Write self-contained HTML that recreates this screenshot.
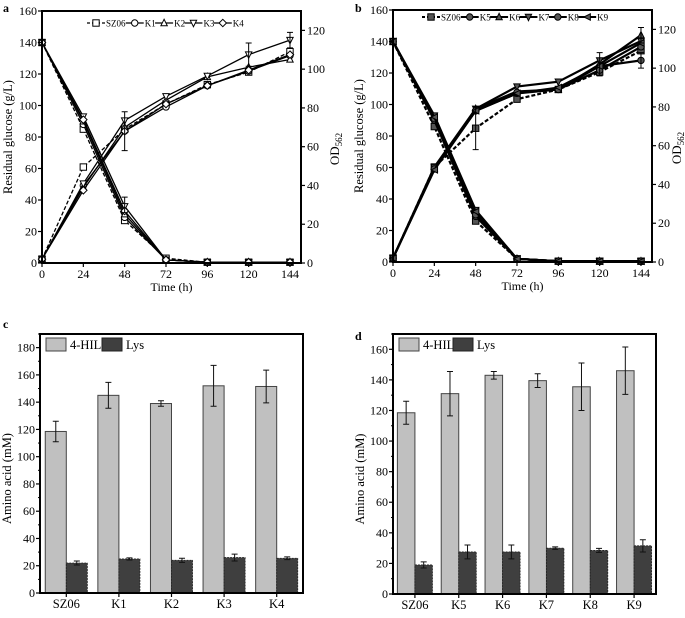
<!DOCTYPE html>
<html><head><meta charset="utf-8">
<style>
html,body{margin:0;padding:0;background:#fff;}
svg, svg text{font-family:"Liberation Serif","Times New Roman",Times,serif;}
</style></head>
<body>
<svg id="fig" width="685" height="613" viewBox="0 0 685 613" font-family="Liberation Serif, serif" xmlns="http://www.w3.org/2000/svg"></svg>
<script>
// ---- data: panel a ----
const timesA = [0,24,48,72,96,120,144];
const namesA = ["SZ06","K1","K2","K3","K4"];
const glucA_SZ06 = [140,85,27,3,0.5,0.5,0.5];
const glucA_K1 = [140,88,29,2,0.5,0.5,0.5];
const glucA_K2 = [140,90,31,2,0.5,0.5,0.5];
const glucA_K3 = [140,93,36,2,0.5,0.5,0.5];
const glucA_K4 = [140,91,33,2,0.5,0.5,0.5];
const odA_SZ06 = [2,49.5,69,82,92,98.5,109];
const odA_K1 = [2,40,68,80.5,91.5,99,107];
const odA_K2 = [2,39,70,84,96,101,105];
const odA_K3 = [2,41,73.5,86,96.5,107.5,115];
const odA_K4 = [2,37.5,68,82,91.5,99.5,107.5];
// ---- data: panel b ----
const namesB = ["SZ06","K5","K6","K7","K8","K9"];
const glucB_SZ06 = [140,86,26,2,0.5,0.5,0.5];
const glucB_K5 = [140,90,29,2,0.5,0.5,0.5];
const glucB_K6 = [140,92,31,2,0.5,0.5,0.5];
const glucB_K7 = [140,93,33,2,0.5,0.5,0.5];
const glucB_K8 = [140,91,30,2,0.5,0.5,0.5];
const glucB_K9 = [140,92,32,2,0.5,0.5,0.5];
const odB_SZ06 = [2,49,69,84,89,98,109];
const odB_K5 = [2,48,78,87,89,101,104];
const odB_K6 = [2,48,79,88,89,102,117];
const odB_K7 = [2,49,79,90.5,93,104,114];
const odB_K8 = [2,48,78,87.5,89,99,111];
const odB_K9 = [2,47.5,78,87,90,101,113];
const leftTicks = [0,20,40,60,80,100,120,140,160];
const rightTicks = [0,20,40,60,80,100,120];
// ---- data: panel c ----
const catsC = ["SZ06","K1","K2","K3","K4"];
const hilC = [118.5,145,139,152,151.5];
const hilErrC = [7.5,9.5,2,15,12];
const lysC = [22,25,24,26,25.5];
const lysErrC = [1.5,0.8,1.5,2.5,1];
const ticksC = [0,20,40,60,80,100,120,140,160,180];
// ---- data: panel d ----
const catsD = ["SZ06","K5","K6","K7","K8","K9"];
const hilD = [118.5,131,143,139.5,135.5,146];
const hilErrD = [7.5,14.5,2.5,4.5,15.5,15.5];
const lysD = [19,27.5,27.5,30,28.5,31.5];
const lysErrD = [2,4.5,4.5,0.8,1.3,4];
const ticksD = [0,20,40,60,80,100,120,140,160];

const NS="http://www.w3.org/2000/svg";
const svg=document.getElementById('fig');
const FF='"Liberation Serif", "Times New Roman", serif';
function mk(tag,attrs,parent,text){const e=document.createElementNS(NS,tag);for(const k in attrs)e.setAttribute(k,attrs[k]);if(tag==='text')e.style.fontFamily=FF;if(text!==undefined)e.textContent=text;(parent||svg).appendChild(e);return e;}

function marker(g,shape,x,y,filled){
  const f=filled?'#555':'#fff';const s=3.2;let m;
  if(shape==='square')m=mk('rect',{x:x-s,y:y-s,width:2*s,height:2*s,fill:f,stroke:'#000','stroke-width':1},g);
  else if(shape==='circle')m=mk('circle',{cx:x,cy:y,r:s,fill:f,stroke:'#000','stroke-width':1},g);
  else if(shape==='up')m=mk('polygon',{points:`${x},${y-s-0.5} ${x-s},${y+s-0.5} ${x+s},${y+s-0.5}`,fill:f,stroke:'#000','stroke-width':1},g);
  else if(shape==='down')m=mk('polygon',{points:`${x},${y+s+0.5} ${x-s},${y-s+0.5} ${x+s},${y-s+0.5}`,fill:f,stroke:'#000','stroke-width':1},g);
  else if(shape==='diamond')m=mk('polygon',{points:`${x},${y-s-0.5} ${x+s+0.5},${y} ${x},${y+s+0.5} ${x-s-0.5},${y}`,fill:f,stroke:'#000','stroke-width':1},g);
  else m=mk('polygon',{points:`${x-s},${y} ${x+s},${y-s} ${x+s},${y+s}`,fill:f,stroke:'#000','stroke-width':1},g);
  
  
}

function linePanel(o){
  const g=mk('g',{},svg);
  const X=t=>o.l+(t/o.xmax)*(o.r-o.l);
  const YL=v=>o.b-(v/160)*(o.b-o.t);
  const YR=v=>o.b-(v/130)*(o.b-o.t);
  o.series.forEach((s,i)=>{
    const sg=mk('g',{},g);
    const dash=i===0?'4,2':'none';const w=o.bold?2.2:1.3;
    const pg=timesA.map((t,j)=>X(t)+','+YL(s.gluc[j])).join(' ');
    const pl=mk('polyline',{points:pg,fill:'none',stroke:'#000','stroke-width':w,'stroke-dasharray':dash},sg);
    
    const po=timesA.map((t,j)=>X(t)+','+YR(s.od[j])).join(' ');
    const pl2=mk('polyline',{points:po,fill:'none',stroke:'#000','stroke-width':w,'stroke-dasharray':dash},sg);
    
    timesA.forEach((t,j)=>{marker(sg,s.shape,X(t),YL(s.gluc[j]),o.bold);marker(sg,s.shape,X(t),YR(s.od[j]),o.bold);});
  });
  o.errs.forEach(e=>{const x=X(e[0]),y1=YR(e[1]-e[2]),y2=YR(e[1]+e[2]);
    const eb=mk('path',{d:`M${x},${y1}V${y2}M${x-3},${y1}H${x+3}M${x-3},${y2}H${x+3}`,stroke:'#000','stroke-width':1,fill:'none'},g);
    });
  const fr=mk('rect',{x:o.l,y:o.t,width:o.r-o.l,height:o.b-o.t,fill:'none',stroke:'#000','stroke-width':2},g);
  
  leftTicks.forEach(v=>{const y=YL(v);mk('line',{x1:o.l-4,x2:o.l,y1:y,y2:y,stroke:'#000','stroke-width':1.2},g);
    const t=mk('text',{x:o.l-5,y:y+4,'text-anchor':'end','font-size':12},g,v);});
  rightTicks.forEach(v=>{const y=YR(v);mk('line',{x1:o.r,x2:o.r+4,y1:y,y2:y,stroke:'#000','stroke-width':1.2},g);
    const t=mk('text',{x:o.r+6,y:y+4,'font-size':12},g,v);});
  timesA.forEach(v=>{const x=X(v);mk('line',{x1:x,x2:x,y1:o.b,y2:o.b+4,stroke:'#000','stroke-width':1.2},g);
    const t=mk('text',{x:x,y:o.b+15,'text-anchor':'middle','font-size':12},g,v);});
  const xt=mk('text',{x:(o.l+o.r)/2,y:o.b+28,'text-anchor':'middle','font-size':12},g,'Time (h)');
  const yt=mk('text',{transform:`translate(${o.l-30},${(o.t+o.b)/2}) rotate(-90)`,'text-anchor':'middle','font-size':12.5},g,'Residual glucose (g/L)');
  const y2=mk('text',{transform:`translate(${o.r+o.y2off},${(o.t+o.b)/2+12}) rotate(-90)`,'text-anchor':'middle','font-size':13},g);
  mk('tspan',{},y2,'OD');mk('tspan',{'font-size':9,dy:3},y2,'562');
  const pl=mk('text',{x:o.lx,y:o.ly,'font-size':12,'font-weight':'bold'},g,o.letter);
  const lg=mk('g',{},g);
  let lx=o.legx;
  o.series.forEach((s,i)=>{
    const le=mk('g',{},lg);
    mk('line',{x1:lx,x2:lx+18,y1:o.legy,y2:o.legy,stroke:'#000','stroke-width':o.bold?2:1.3,'stroke-dasharray':i===0?'3,2':'none'},le);
    marker(le,s.shape,lx+9,o.legy,o.bold);
    mk('text',{x:lx+19,y:o.legy+3.5,'font-size':o.legfs},le,s.label);
    lx+=19+s.label.length*o.legfs*0.52+1;
  });
}
linePanel({name:'panel-a-chart',l:42,r:301,t:11,b:263,xmax:150.4,bold:false,letter:'a',lx:3,ly:12,legx:87,legy:23,legfs:9,y2off:38,
  series:[{label:'SZ06',shape:'square',gluc:glucA_SZ06,od:odA_SZ06},{label:'K1',shape:'circle',gluc:glucA_K1,od:odA_K1},
  {label:'K2',shape:'up',gluc:glucA_K2,od:odA_K2},{label:'K3',shape:'down',gluc:glucA_K3,od:odA_K3},{label:'K4',shape:'diamond',gluc:glucA_K4,od:odA_K4}],
  errs:[[48,68,10],[120,107.5,6],[144,115,4],[48,30,4]]});
linePanel({name:'panel-b-chart',l:393,r:652,t:10,b:262,xmax:150.4,bold:true,letter:'b',lx:355,ly:12,legx:422,legy:17,legfs:9,y2off:29,
  series:[{label:'SZ06',shape:'square',gluc:glucB_SZ06,od:odB_SZ06},{label:'K5',shape:'circle',gluc:glucB_K5,od:odB_K5},
  {label:'K6',shape:'up',gluc:glucB_K6,od:odB_K6},{label:'K7',shape:'down',gluc:glucB_K7,od:odB_K7},{label:'K8',shape:'circle',gluc:glucB_K8,od:odB_K8},{label:'K9',shape:'left',gluc:glucB_K9,od:odB_K9}],
  errs:[[48,69,11],[120,102,6],[144,117,4],[144,104,4]]});

function barPanel(o){
  const g=mk('g',{},svg);
  const Y=v=>o.b-(v/o.ymax)*(o.b-o.t);
  const band=(o.r-o.l)/o.cats.length;const bw=band*0.4;
  o.cats.forEach((c,i)=>{
    const cx=o.l+band*(i+0.5);
    const b1=mk('rect',{x:cx-bw,y:Y(o.hil[i]),width:bw,height:o.b-Y(o.hil[i]),fill:'#c0c0c0',stroke:'#444','stroke-width':1},g);
    
    const b2=mk('rect',{x:cx,y:Y(o.lys[i]),width:bw,height:o.b-Y(o.lys[i]),fill:'#3f3f3f',stroke:'#222','stroke-width':0.8,'stroke-dasharray':'2,1'},g);
    
    [[cx-bw/2,o.hil[i],o.hilErr[i]],[cx+bw/2,o.lys[i],o.lysErr[i]]].forEach(e=>{
      const y1=Y(e[1]-e[2]),y2=Y(e[1]+e[2]),x=e[0];
      const eb=mk('path',{d:`M${x},${y1}V${y2}M${x-3},${y1}H${x+3}M${x-3},${y2}H${x+3}`,stroke:'#111','stroke-width':1,fill:'none'},g);
      });
    mk('line',{x1:cx,x2:cx,y1:o.b,y2:o.b+4,stroke:'#000','stroke-width':1.2},g);
    const t=mk('text',{x:cx,y:o.b+15,'text-anchor':'middle','font-size':12.5},g,c);
  });
  const fr=mk('rect',{x:o.l,y:o.t,width:o.r-o.l,height:o.b-o.t,fill:'none',stroke:'#000','stroke-width':2},g);
  
  o.ticks.forEach(v=>{const y=Y(v);mk('line',{x1:o.l-4,x2:o.l,y1:y,y2:y,stroke:'#000','stroke-width':1.2},g);
    mk('line',{x1:o.l-2,x2:o.l,y1:Y(v+10),y2:Y(v+10),stroke:'#000','stroke-width':1},g);
    const t=mk('text',{x:o.l-5,y:y+4,'text-anchor':'end','font-size':12},g,v);});
  const yt=mk('text',{transform:`translate(${o.l-29},${(o.t+o.b)/2+15}) rotate(-90)`,'text-anchor':'middle','font-size':12.5},g,'Amino acid (mM)');
  const pl=mk('text',{x:o.lx,y:o.ly,'font-size':12,'font-weight':'bold'},g,o.letter);
  const lg=mk('g',{},g);
  mk('rect',{x:o.legx,y:o.t+4,width:20,height:13,fill:'#c0c0c0',stroke:'#444'},lg);
  mk('text',{x:o.legx+24,y:o.t+15,'font-size':12.5},lg,'4-HIL');
  mk('rect',{x:o.legx+o.legGap,y:o.t+4,width:20,height:13,fill:'#3f3f3f',stroke:'#222'},lg);
  mk('text',{x:o.legx+o.legGap+24,y:o.t+15,'font-size':12.5},lg,'Lys');
}
barPanel({name:'panel-c-chart',l:40,r:303,t:334,b:593,ymax:190,cats:catsC,hil:hilC,hilErr:hilErrC,lys:lysC,lysErr:lysErrC,ticks:ticksC,letter:'c',lx:3,ly:328,legx:46,legGap:56});
barPanel({name:'panel-d-chart',l:393,r:656,t:334,b:594,ymax:170,cats:catsD,hil:hilD,hilErr:hilErrD,lys:lysD,lysErr:lysErrD,ticks:ticksD,letter:'d',lx:355,ly:340,legx:399,legGap:54});
</script>
</body></html>
